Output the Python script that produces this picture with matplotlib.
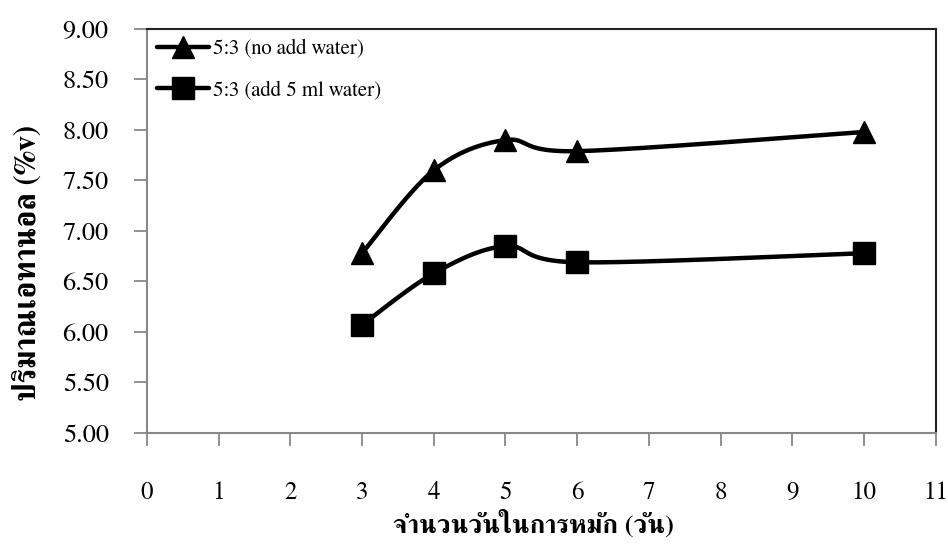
import matplotlib
matplotlib.use("Agg")
import matplotlib.pyplot as plt
from matplotlib.lines import Line2D
import numpy as np

plt.rcParams['font.family'] = ['FreeSerif', 'DejaVu Serif']

days = [3, 4, 5, 6, 10]
no_water = [6.78, 7.60, 7.90, 7.79, 7.98]
add_water = [6.07, 6.58, 6.85, 6.69, 6.78]
labels = ['5:3 (no add water)', '5:3 (add 5 ml water)']
markers = ['^', 's']

x_label = 'จำนวนวันในการหมัก (วัน)'
y_label = 'ปริมาณเอทานอล (%v)'


def smooth(xs, ys, n=60):
    # excel-like smoothed line: catmull-rom segments as cubic beziers
    p = np.column_stack([xs, ys]).astype(float)
    out = []
    for i in range(len(p) - 1):
        p0 = p[i - 1] if i > 0 else p[i]
        p1, p2 = p[i], p[i + 1]
        p3 = p[i + 2] if i + 2 < len(p) else p[i + 1]
        c1 = p1 + (p2 - p0) / 6
        c2 = p2 - (p3 - p1) / 6
        t = np.linspace(0, 1, n)[:, None]
        seg = ((1 - t) ** 3) * p1 + 3 * ((1 - t) ** 2) * t * c1 + 3 * (1 - t) * t ** 2 * c2 + t ** 3 * p2
        out.append(seg if i == 0 else seg[1:])
    out = np.vstack(out)
    return out[:, 0], out[:, 1]


fig = plt.figure(figsize=(9.48, 5.46), dpi=100)
ax = fig.add_axes([0.155, 0.207, 0.832, 0.740])

handles = []
for ys, m, lab in zip([no_water, add_water], markers, labels):
    sx, sy = smooth(days, ys)
    ax.plot(sx, sy, color='black', lw=3.2, solid_capstyle='round', zorder=2)
    ax.plot(days, ys, linestyle='none', marker=m, ms=16.3, color='black', zorder=3, clip_on=False)
    handles.append(Line2D([], [], color='black', lw=3.2, marker=m, ms=16, solid_capstyle='round'))

ax.set_xlim(0, 11)
ax.set_ylim(5, 9)
ax.set_xticks(range(0, 12))
ax.set_yticks(np.arange(5, 9.01, 0.5))
ax.set_yticklabels(['%.2f' % v for v in np.arange(5, 9.01, 0.5)])

for s in ['left', 'bottom']:
    ax.spines[s].set_color('#888888')
    ax.spines[s].set_linewidth(1.5)
for s in ['top', 'right']:
    ax.spines[s].set_color('#222222')
    ax.spines[s].set_linewidth(1.5)

ax.tick_params(axis='both', direction='out', length=9.5, width=1.3, color='#888888')
ax.tick_params(axis='y', labelsize=19, pad=18)
ax.tick_params(axis='x', labelsize=18, pad=25)

ax.set_xlabel(x_label, fontsize=19, fontweight='bold')
ax.set_ylabel(y_label, fontsize=22, fontweight='bold')
ax.xaxis.set_label_coords(0.49, -0.19)
ax.yaxis.set_label_coords(-0.133, 0.42)

ax.legend(handles, labels, loc='upper left', frameon=False, fontsize=15,
          handlelength=2.5, handletextpad=0.15, labelspacing=1.05,
          borderaxespad=0.1, bbox_to_anchor=(0.0, 1.0))

fig.savefig('out.png', dpi=100)
